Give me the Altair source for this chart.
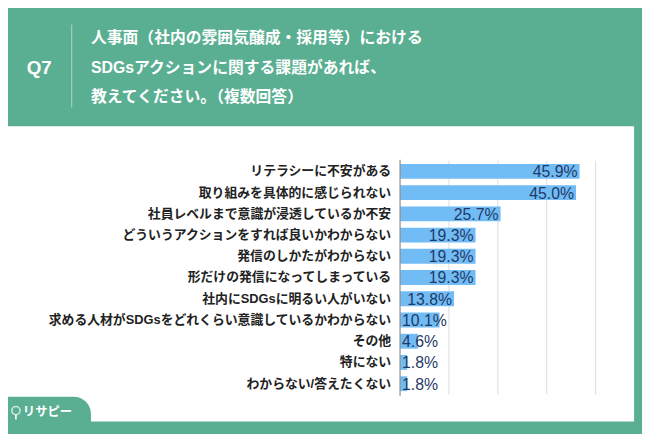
import altair as alt
import pandas as pd

# ---- data ----
categories = [
    "リテラシーに不安がある",
    "取り組みを具体的に感じられない",
    "社員レベルまで意識が浸透しているか不安",
    "どういうアクションをすれば良いかわからない",
    "発信のしかたがわからない",
    "形だけの発信になってしまっている",
    "社内にSDGsに明るい人がいない",
    "求める人材がSDGsをどれくらい意識しているかわからない",
    "その他",
    "特にない",
    "わからない/答えたくない",
]
values = [45.9, 45.0, 25.7, 19.3, 19.3, 19.3, 13.8, 10.1, 4.6, 1.8, 1.8]
grid_values = [12.5, 25, 37.5, 50]
title_lines = [
    "人事面（社内の雰囲気醸成・採用等）における",
    "SDGsアクションに関する課題があれば、",
    "教えてください。（複数回答）",
]
q_label = "Q7"
logo_text = "リサピー"

GREEN = "#5aaf92"
BAR = "#72bcf6"
NAVY = "#1f3a66"
JP = "Liberation Sans, Noto Sans CJK JP"

df = pd.DataFrame({"cat": categories, "value": values})
df["label"] = [f"{v:.1f}%" for v in values]
grid_df = pd.DataFrame({"g": grid_values})
one = pd.DataFrame({"a": [0]})

xs = alt.Scale(domain=[0, 50], range=[397, 595])
ys = alt.Scale(domain=categories, range=[152, 388.5], paddingInner=0.3, paddingOuter=0.15)

white_box = alt.Chart(one).mark_rect(color="white").encode(
    x=alt.value(0), x2=alt.value(634), y=alt.value(117), y2=alt.value(416)
)
tab = alt.Chart(one).mark_rect(color=GREEN, cornerRadiusTopRight=24).encode(
    x=alt.value(0), x2=alt.value(84), y=alt.value(391), y2=alt.value(426)
)
logo_icon = alt.Chart(one).mark_point(
    shape="circle", filled=False, color="white", strokeWidth=1.6, size=70
).encode(x=alt.value(8), y=alt.value(405))
logo_stem = alt.Chart(one).mark_rule(color="white", strokeWidth=1.6).encode(
    x=alt.value(8), y=alt.value(409), y2=alt.value(414)
)
logo = alt.Chart(one).mark_text(
    text=logo_text, color="white", font=JP, fontSize=12.5, fontWeight="bold",
    align="left", baseline="middle"
).encode(x=alt.value(15), y=alt.value(406))

q = alt.Chart(one).mark_text(
    text=q_label, color="white", font="Liberation Sans", fontSize=19, fontWeight="bold",
    align="left", baseline="middle"
).encode(x=alt.value(19), y=alt.value(58))
divider = alt.Chart(one).mark_rule(color="#a9d6c5", strokeWidth=1).encode(
    x=alt.value(64.5), y=alt.value(14), y2=alt.value(98)
)
title_layers = [
    alt.Chart(one).mark_text(
        text=line, color="white", font=JP, fontSize=16, fontWeight="bold",
        align="left", baseline="middle"
    ).encode(x=alt.value(84), y=alt.value(28 + 30 * i))
    for i, line in enumerate(title_lines)
]

grid = alt.Chart(grid_df).mark_rule(color="#dcdcdc", strokeWidth=1).encode(
    x=alt.X("g:Q", scale=xs, axis=None), y=alt.value(152), y2=alt.value(388.5)
)
bars = alt.Chart(df).mark_bar(color=BAR).encode(
    x=alt.X("value:Q", scale=xs, axis=None),
    y=alt.Y("cat:N", scale=ys, sort=categories, axis=None),
)
zero_line = alt.Chart(one).mark_rule(color="#8c8c8c", strokeWidth=1.2).encode(
    x=alt.X("a:Q", scale=xs, axis=None), y=alt.value(151), y2=alt.value(390)
)
cat_labels = alt.Chart(df).mark_text(
    font=JP, fontSize=13, fontWeight="bold", color="#222222", align="right", baseline="middle"
).encode(
    x=alt.value(388),
    y=alt.Y("cat:N", scale=ys, sort=categories, axis=None),
    text="cat:N",
)
val_long = alt.Chart(df).transform_filter("datum.value >= 12").mark_text(
    font="Liberation Sans", fontSize=16, color=NAVY, align="right", baseline="middle", dx=-2, dy=1
).encode(
    x=alt.X("value:Q", scale=xs, axis=None),
    y=alt.Y("cat:N", scale=ys, sort=categories, axis=None),
    text="label:N",
)
val_short = alt.Chart(df).transform_filter("datum.value < 12").mark_text(
    font="Liberation Sans", fontSize=16, color=NAVY, align="left", baseline="middle", dx=2, dy=1
).encode(
    x=alt.value(397),
    y=alt.Y("cat:N", scale=ys, sort=categories, axis=None),
    text="label:N",
)

chart = alt.layer(
    white_box, tab, logo_icon, logo_stem, logo, q, divider, *title_layers,
    grid, bars, zero_line, cat_labels, val_long, val_short,
).properties(
    width=642, height=426, background=GREEN, padding=0,
    autosize=alt.AutoSizeParams(type="none"),
).configure_view(stroke=None)

chart.save("out.html", embed_options={"renderer": "svg", "actions": False})
